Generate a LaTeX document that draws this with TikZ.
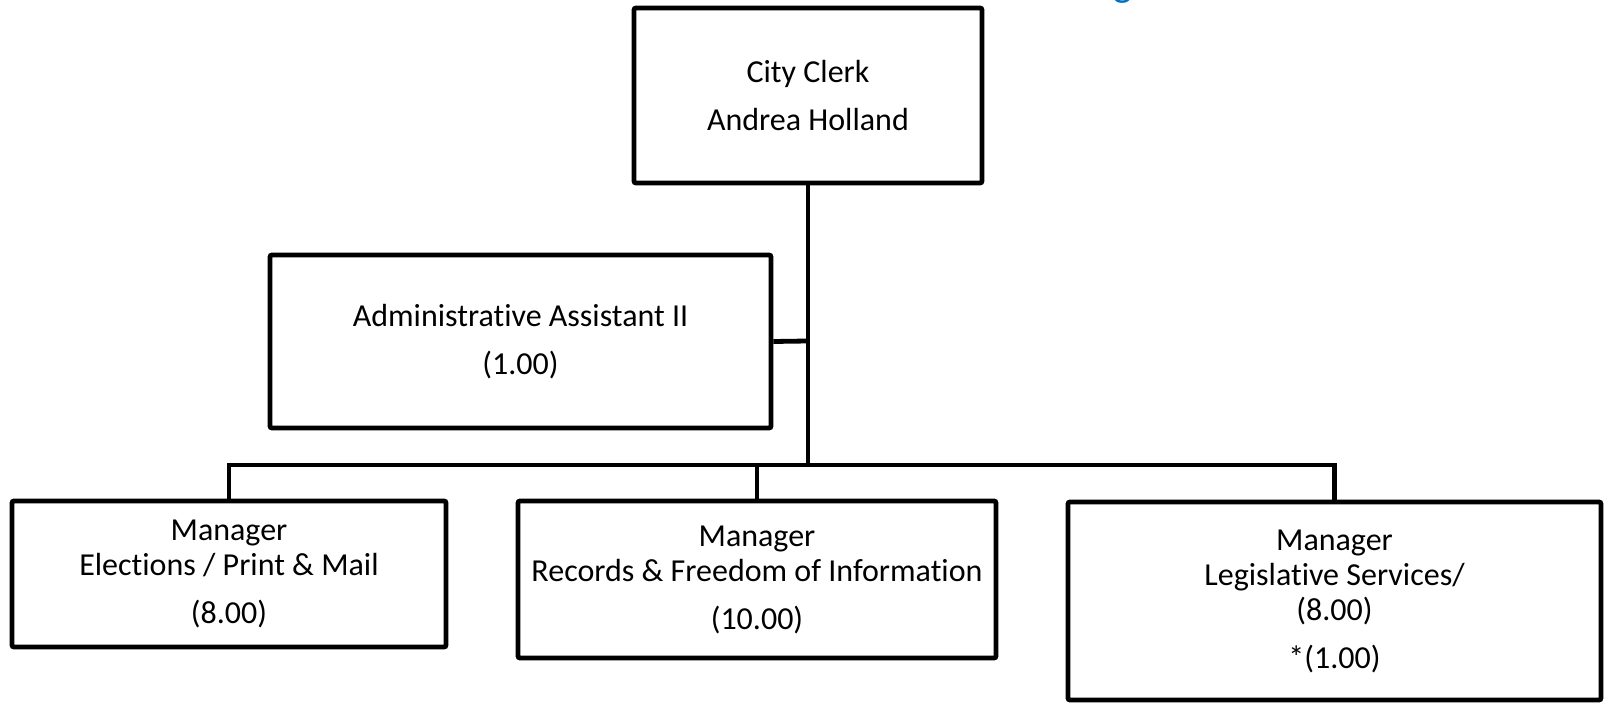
\documentclass[tikz,border=0pt]{standalone}
\usepackage{fontspec}
\setmainfont{Carlito}[Ligatures=NoCommon]
\definecolor{titleblue}{RGB}{0,112,192}
\begin{document}
\begin{tikzpicture}[x=0.5pt,y=-0.5pt,
  post/.style={draw=black, line width=2.4pt, rectangle, rounded corners=1pt,
    align=center, inner sep=0pt, font=\fontsize{16}{17.5}\selectfont},
  link/.style={draw=black, line width=2.4pt}]
\useasboundingbox (0,0) rectangle (1606,704);

% tail of the page heading, cut by the top edge
\node[anchor=base, inner sep=0pt, text=titleblue,
  font=\fontsize{20}{24}\selectfont] (headtail) at (1123,-3) {g};

% positions
\node[post, minimum width=174pt, minimum height=87.5pt] (clerk) at (808,95.5)
  {City Clerk\\[6.5pt]Andrea Holland};
\node[post, minimum width=250.5pt, minimum height=86.5pt] (admin) at (520.5,341.5)
  {Administrative Assistant II\\[6.5pt](1.00)};
\node[post, minimum width=217pt, minimum height=73pt] (elect) at (229,574)
  {Manager\\Elections / Print \& Mail\\[6.5pt](8.00)};
\node[post, minimum width=239pt, minimum height=78.5pt] (rec) at (757,579.5)
  {Manager\\Records \& Freedom of Information\\[6.5pt](10.00)};
\node[post, minimum width=266.5pt, minimum height=99pt] (leg) at (1334.5,601)
  {Manager\\Legislative Services/\\(8.00)\\[6.5pt]*(1.00)};

% reporting lines
\coordinate (hub) at (808,465);
\coordinate (tee) at (808,341);
\draw[link] (clerk.south) -- (hub);
\draw[link] (admin.east) -- (tee);
\draw[link] (elect.north) -- (elect.north |- hub) -- (leg.north |- hub) -- (leg.north);
\draw[link] (rec.north) -- (rec.north |- hub);
\end{tikzpicture}
\end{document}
